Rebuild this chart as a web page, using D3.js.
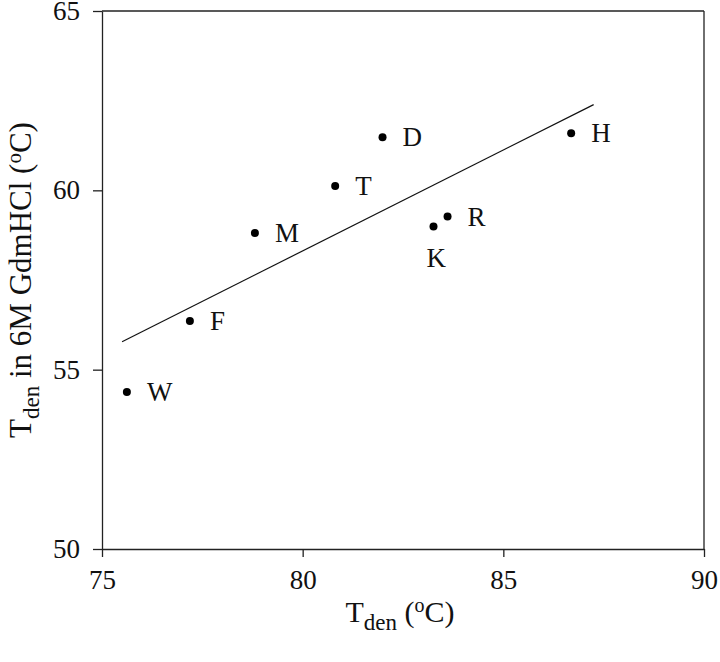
<!DOCTYPE html>
<html>
<head>
<meta charset="utf-8">
<script src="https://cdn.jsdelivr.net/npm/d3@7"></script>
<style>
  body { margin: 0; background: #fff; }
  text { font-family: "Liberation Serif", "Times New Roman", serif; fill: #111; }
</style>
</head>
<body>
<svg id="viz" width="720" height="662"></svg>
<script>
// ----- data -----
const residues = ["W", "F", "M", "T", "D", "K", "R", "H"];
const tDen     = [75.62, 77.19, 78.81, 80.81, 81.99, 83.26, 83.61, 86.69];
const tDenGdm  = [54.38, 56.36, 58.81, 60.12, 61.48, 58.99, 59.27, 61.59];
// fitted line endpoints
const fitX = [75.5, 87.25];
const fitY = [55.78, 62.39];
const xTicks = [75, 80, 85, 90];
const yTicks = [50, 55, 60, 65];

const svg = d3.select("#viz");
const margin = { top: 11, right: 16, bottom: 113, left: 102 };
const W = +svg.attr("width")  - margin.left - margin.right;
const H = +svg.attr("height") - margin.top  - margin.bottom;
const g = svg.append("g").attr("transform", `translate(${margin.left},${margin.top})`);

const x = d3.scaleLinear().domain([75, 90]).range([0, W]);
const y = d3.scaleLinear().domain([50, 65]).range([H, 0]);

// axes
const xAxis = g.append("g").attr("transform", `translate(0,${H})`)
  .call(d3.axisBottom(x).tickValues(xTicks).tickSize(8).tickPadding(13).tickSizeOuter(0));
const yAxis = g.append("g")
  .call(d3.axisLeft(y).tickValues(yTicks).tickSize(9).tickPadding(13).tickSizeOuter(0));
[xAxis, yAxis].forEach(a => {
  a.selectAll("path, line").attr("stroke", "#222").attr("stroke-width", 1.3);
  a.selectAll("text").style("font-size", "27px").style("font-family", "Liberation Serif, serif");
});
// frame top and right
g.append("line").attr("x1", 0).attr("x2", W).attr("y1", 0).attr("y2", 0)
  .attr("stroke", "#222").attr("stroke-width", 1.3);
g.append("line").attr("x1", W).attr("x2", W).attr("y1", 0).attr("y2", H)
  .attr("stroke", "#222").attr("stroke-width", 1.3);

// fit line
g.append("line")
  .attr("x1", x(fitX[0])).attr("y1", y(fitY[0]))
  .attr("x2", x(fitX[1])).attr("y2", y(fitY[1]))
  .attr("stroke", "#111").attr("stroke-width", 1.2);

const pts = residues.map((r, i) => ({ r, x: tDen[i], y: tDenGdm[i] }));

g.selectAll("circle").data(pts).join("circle")
  .attr("cx", d => x(d.x)).attr("cy", d => y(d.y))
  .attr("r", 4).attr("fill", "#000");

g.selectAll(".lab").data(pts).join("text")
  .attr("class", "lab")
  .attr("x", d => x(d.x) + (d.r === "K" ? -7 : 20))
  .attr("y", d => y(d.y) + (d.r === "K" ? 40 : 9))
  .style("font-size", "27px")
  .text(d => d.r);

// axis titles
const xt = svg.append("text")
  .attr("x", 400).attr("y", 622)
  .attr("text-anchor", "middle").style("font-size", "30px");
xt.append("tspan").text("T");
xt.append("tspan").text("den").attr("dy", 8).style("font-size", "23px");
xt.append("tspan").text(" (").attr("dy", -8);
xt.append("tspan").text("o").attr("dy", -10).style("font-size", "20px");
xt.append("tspan").text("C)").attr("dy", 10);

const yt = svg.append("text")
  .attr("transform", `translate(31,${margin.top + H / 2}) rotate(-90)`)
  .attr("text-anchor", "middle").style("font-size", "31px");
yt.append("tspan").text("T");
yt.append("tspan").text("den").attr("dy", 8).style("font-size", "23px");
yt.append("tspan").text(" in 6M GdmHCl (").attr("dy", -8);
yt.append("tspan").text("o").attr("dy", -10).style("font-size", "21px");
yt.append("tspan").text("C)").attr("dy", 10);
</script>
</body>
</html>
